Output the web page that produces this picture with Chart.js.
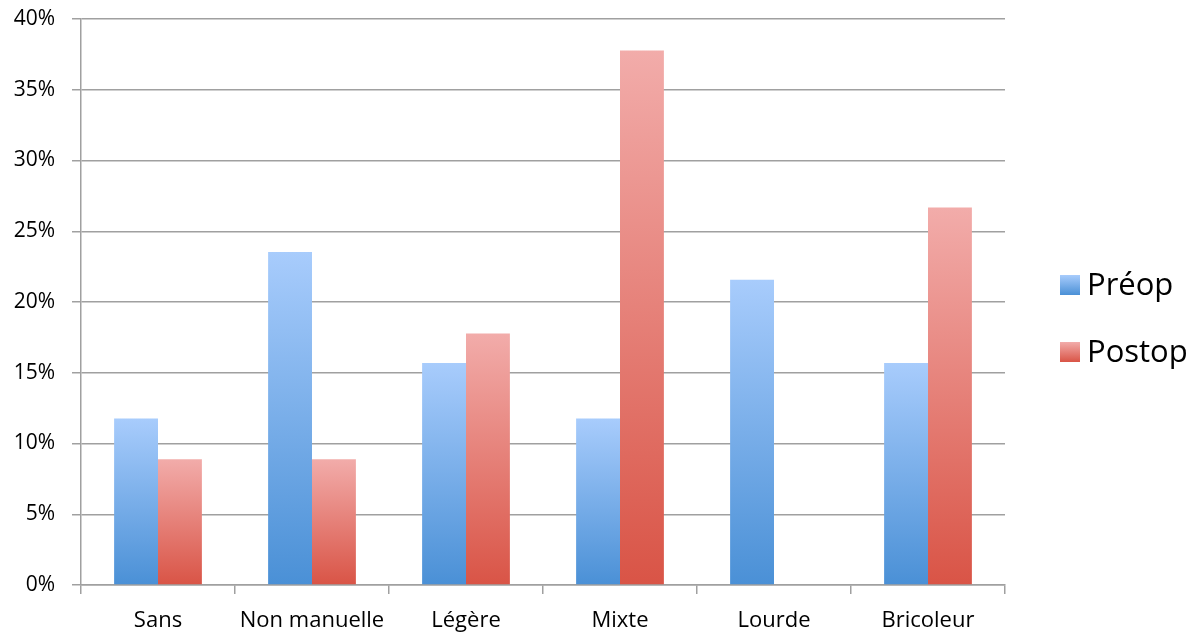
<!DOCTYPE html>
<html>
<head>
<meta charset="utf-8">
<title>Préop / Postop</title>
<script src="https://cdn.jsdelivr.net/npm/chart.js@4.4.1/dist/chart.umd.min.js"></script>
<style>
  body { margin: 0; background: #fff; }
  #wrap { width: 1204px; height: 635px; }
</style>
</head>
<body>
<div id="wrap"><canvas id="graf" width="1204" height="635"></canvas></div>
<script>
const categorias = ['Sans', 'Non manuelle', 'Légère', 'Mixte', 'Lourde', 'Bricoleur'];
const preop = [11.76, 23.53, 15.69, 11.76, 21.57, 15.69];
const postop = [8.89, 8.89, 17.78, 37.78, 0, 26.67];
const series = ['Préop', 'Postop'];
const ticksY = [0, 5, 10, 15, 20, 25, 30, 35, 40];

const azul = ['rgb(168, 204, 252)', 'rgb(74, 144, 214)'];
const rojo = ['rgb(242, 172, 170)', 'rgb(217, 84, 70)'];
const fuente = "'Open Sans', 'DejaVu Sans', sans-serif";

function degradado(colores) {
  return function(c) {
    const chart = c.chart;
    if (!chart.chartArea || c.type !== 'data') return colores[1];
    const y = chart.scales.y;
    const y0 = y.getPixelForValue(0);
    const y1 = y.getPixelForValue(c.parsed.y);
    if (y0 - y1 < 1) return colores[1];
    const g = chart.ctx.createLinearGradient(0, y1, 0, y0);
    g.addColorStop(0, colores[0]);
    g.addColorStop(1, colores[1]);
    return g;
  };
}

// leyenda a la derecha, dibujada a mano
const leyenda = {
  id: 'leyenda',
  afterDraw(chart) {
    const ctx = chart.ctx;
    const cols = [azul, rojo];
    const ys = [285, 352];
    ctx.save();
    chart.data.datasets.forEach(function(ds, i) {
      const g = ctx.createLinearGradient(0, ys[i] - 10, 0, ys[i] + 10);
      g.addColorStop(0, cols[i][0]);
      g.addColorStop(1, cols[i][1]);
      ctx.fillStyle = g;
      ctx.fillRect(1060, ys[i] - 10, 20, 20);
      ctx.fillStyle = '#000';
      ctx.font = '31px ' + fuente;
      ctx.textBaseline = 'middle';
      ctx.textAlign = 'left';
      ctx.fillText(ds.label, 1087, ys[i] + 1);
    });
    ctx.restore();
  }
};

const ctx = document.getElementById('graf').getContext('2d');
const myChart = new Chart(ctx, {
  type: 'bar',
  data: {
    labels: categorias,
    datasets: [{
      label: series[0],
      data: preop,
      backgroundColor: degradado(azul),
      borderWidth: 0
    }, {
      label: series[1],
      data: postop,
      backgroundColor: degradado(rojo),
      borderWidth: 0
    }]
  },
  options: {
    responsive: false,
    animation: false,
    layout: { padding: { left: 12, right: 199, top: 19, bottom: 0 } },
    datasets: {
      bar: { categoryPercentage: 0.57, barPercentage: 1.0 }
    },
    plugins: {
      legend: { display: false },
      tooltip: { enabled: false }
    },
    scales: {
      x: {
        afterFit: function(axis) { axis.height = 50; },
        grid: {
          offset: true,
          drawOnChartArea: false,
          drawTicks: true,
          tickLength: 9,
          color: '#a0a0a0',
          lineWidth: 1.5
        },
        border: { color: '#a0a0a0', width: 1.5 },
        ticks: {
          color: '#000',
          padding: 14,
          font: { family: fuente, size: 22 }
        }
      },
      y: {
        min: 0,
        max: 40,
        afterFit: function(axis) {
          axis.width = 69;
          axis.paddingTop = 0;
          axis.paddingBottom = 0;
        },
        afterBuildTicks: function(axis) {
          axis.ticks = ticksY.map(function(v) { return { value: v }; });
        },
        grid: {
          color: '#a0a0a0',
          lineWidth: 1.5,
          tickLength: 9
        },
        border: { color: '#a0a0a0', width: 1.5 },
        ticks: {
          color: '#000',
          padding: 17,
          font: { family: fuente, size: 21 },
          callback: function(v) { return v + '%'; }
        }
      }
    }
  },
  plugins: [leyenda]
});
</script>
</body>
</html>
